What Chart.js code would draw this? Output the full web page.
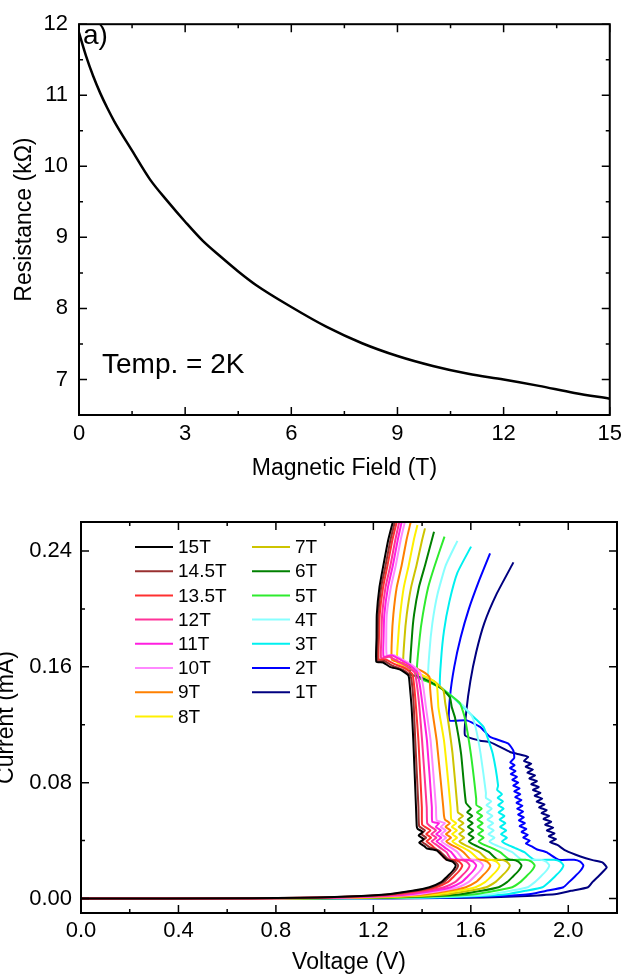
<!DOCTYPE html>
<html>
<head>
<meta charset="utf-8">
<script src="https://cdn.jsdelivr.net/npm/chart.js@4.4.0/dist/chart.umd.min.js"></script>
<style>
  html, body { margin: 0; padding: 0; background: #fff; }
  #wrap { position: relative; width: 628px; height: 976px; overflow: hidden; }
  canvas { position: absolute; left: 0; }
  #chartA { top: 0; }
  #chartB { top: 490px; }
</style>
</head>
<body>
<div id="wrap">
  <canvas id="chartA" width="628" height="490"></canvas>
  <canvas id="chartB" width="628" height="486"></canvas>
</div>
<script>

// Panel a) resistance vs field

const fieldB = [0, 0.2, 0.4, 0.6, 0.8, 1.0, 1.5, 2.0, 2.5, 3.0, 3.5, 4.0, 4.5, 5.0, 6.0, 7.0, 8.0, 9.0, 10.0, 11.0, 12.0, 13.0, 14.0, 15.0];
const resistance = [11.88, 11.55, 11.27, 11.03, 10.82, 10.63, 10.22, 9.82, 9.51, 9.22, 8.95, 8.73, 8.52, 8.33, 8.02, 7.74, 7.51, 7.33, 7.19, 7.08, 7.00, 6.91, 6.81, 6.73];

const fieldTicks = [0, 3, 6, 9, 12, 15];
const fieldMinor = [1.5, 4.5, 7.5, 10.5, 13.5];
const resTicks = [7, 8, 9, 10, 11, 12];
const resMinor = [7.5, 8.5, 9.5, 10.5, 11.5];

// Panel b) I-V curves, [voltage V, current mA]

const fields = ['15T', '14.5T', '13.5T', '12T', '11T', '10T', '9T', '8T', '7T', '6T', '5T', '4T', '3T', '2T', '1T'];
const colors = ['#000000', '#993030', '#ff3030', '#ff3399', '#ff1fe0', '#ff88ff', '#ff8000', '#fff000',
                '#cdc400', '#008000', '#2eeb2e', '#88ffff', '#00f0f0', '#0000ff', '#000080'];

const iv15 = [[0,0],[0.70,0.0002],[0.90,0.0006],[1.04,0.0010],[1.15,0.0018],[1.27,0.0032],[1.36,0.0053],[1.43,0.0078],[1.48,0.0115],[1.50,0.0147],[1.525,0.019],[1.538,0.0228],[1.525,0.0255],[1.50,0.0268],
  [1.46,0.0332],[1.42,0.0345],[1.41,0.036],[1.388,0.0385],[1.407,0.041],[1.386,0.0435],[1.403,0.046],[1.382,0.048],[1.378,0.050],[1.375,0.063],[1.364,0.109],[1.357,0.132],[1.350,0.146],[1.344,0.154],
  [1.31,0.158],[1.268,0.160],[1.24,0.163],[1.212,0.1635],[1.213,0.18],[1.214,0.196],[1.225,0.215],[1.241,0.23],[1.261,0.2476],[1.282,0.2614]];
const iv14p5 = [[0,0],[0.711,0.0002],[0.911,0.0006],[1.051,0.0010],[1.161,0.0018],[1.281,0.0032],[1.371,0.0053],[1.441,0.0078],[1.49,0.0115],[1.51,0.0147],[1.535,0.019],[1.548,0.0228],[1.535,0.0255],[1.51,0.0268],
  [1.47,0.033],[1.43,0.0355],[1.418,0.037],[1.398,0.0395],[1.417,0.042],[1.397,0.0445],[1.412,0.047],[1.388,0.050],[1.385,0.063],[1.372,0.109],[1.366,0.132],[1.36,0.146],[1.352,0.154],
  [1.32,0.158],[1.275,0.161],[1.245,0.164],[1.217,0.164],[1.218,0.18],[1.220,0.196],[1.232,0.215],[1.250,0.23],[1.270,0.2476],[1.290,0.2614]];
const iv13p5 = [[0,0],[0.73,0.0002],[0.93,0.0006],[1.07,0.0010],[1.18,0.0018],[1.30,0.0032],[1.388,0.0053],[1.458,0.0078],[1.507,0.0115],[1.527,0.0147],[1.552,0.019],[1.565,0.0228],[1.552,0.0255],[1.527,0.0268],[1.50,0.0268],
  [1.47,0.032],[1.45,0.035],[1.438,0.037],[1.418,0.0395],[1.437,0.042],[1.417,0.0445],[1.434,0.047],[1.412,0.0495],[1.40,0.051],[1.399,0.063],[1.385,0.109],[1.375,0.132],[1.368,0.146],[1.36,0.155],
  [1.33,0.159],[1.285,0.162],[1.25,0.165],[1.222,0.165],[1.223,0.18],[1.226,0.196],[1.240,0.215],[1.258,0.23],[1.278,0.2476],[1.298,0.2614]];
const iv12 = [[0,0],[0.763,0.0002],[0.963,0.0006],[1.103,0.0010],[1.213,0.0018],[1.333,0.0032],[1.42,0.0053],[1.49,0.0078],[1.537,0.0115],[1.557,0.0147],[1.582,0.019],[1.595,0.0228],[1.582,0.0255],[1.557,0.0268],[1.52,0.0268],
  [1.50,0.032],[1.475,0.035],[1.460,0.037],[1.439,0.0395],[1.459,0.042],[1.438,0.0445],[1.457,0.047],[1.436,0.0495],[1.421,0.052],[1.419,0.063],[1.40,0.109],[1.389,0.132],[1.38,0.146],[1.37,0.156],
  [1.34,0.160],[1.30,0.164],[1.265,0.167],[1.232,0.166],[1.233,0.18],[1.236,0.196],[1.250,0.215],[1.270,0.23],[1.290,0.2476],[1.308,0.2614]];
const iv11 = [[0,0],[0.792,0.0002],[0.992,0.0006],[1.132,0.0010],[1.242,0.0018],[1.362,0.0032],[1.448,0.0053],[1.518,0.0078],[1.564,0.0115],[1.584,0.0147],[1.609,0.019],[1.622,0.0228],[1.609,0.0255],[1.584,0.0268],[1.545,0.0268],
  [1.52,0.032],[1.495,0.035],[1.480,0.037],[1.459,0.0395],[1.479,0.042],[1.458,0.0445],[1.477,0.047],[1.456,0.0495],[1.470,0.052],[1.442,0.053],[1.440,0.063],[1.42,0.109],[1.403,0.132],[1.392,0.146],[1.38,0.156],
  [1.35,0.161],[1.31,0.165],[1.275,0.168],[1.242,0.167],[1.242,0.18],[1.245,0.196],[1.260,0.215],[1.280,0.23],[1.300,0.2476],[1.318,0.2614]];
const iv10 = [[0,0],[0.823,0.0002],[1.023,0.0006],[1.163,0.0010],[1.273,0.0018],[1.393,0.0032],[1.478,0.0053],[1.548,0.0078],[1.592,0.0115],[1.612,0.0147],[1.637,0.019],[1.650,0.0228],[1.637,0.0255],[1.612,0.0268],[1.57,0.0268],
  [1.545,0.032],[1.52,0.035],[1.500,0.037],[1.479,0.0395],[1.499,0.042],[1.478,0.0445],[1.497,0.047],[1.476,0.0495],[1.494,0.052],[1.46,0.054],[1.457,0.063],[1.435,0.109],[1.416,0.132],[1.405,0.146],[1.392,0.156],
  [1.36,0.161],[1.32,0.165],[1.285,0.168],[1.255,0.168],[1.253,0.18],[1.255,0.196],[1.272,0.215],[1.292,0.23],[1.312,0.2476],[1.331,0.2614]];
const iv9 = [[0,0],[0.856,0.0002],[1.056,0.0006],[1.196,0.0010],[1.306,0.0018],[1.426,0.0032],[1.509,0.0053],[1.579,0.0078],[1.622,0.0115],[1.642,0.0147],[1.667,0.019],[1.680,0.0228],[1.667,0.0255],[1.642,0.0268],[1.60,0.0268],
  [1.57,0.032],[1.545,0.035],[1.520,0.037],[1.499,0.0395],[1.519,0.042],[1.498,0.0445],[1.517,0.047],[1.496,0.0495],[1.514,0.052],[1.494,0.0545],[1.490,0.057],[1.487,0.063],[1.46,0.109],[1.44,0.132],[1.433,0.145],[1.43,0.153],
  [1.40,0.157],[1.36,0.160],[1.31,0.163],[1.276,0.165],[1.276,0.18],[1.282,0.196],[1.296,0.215],[1.316,0.23],[1.336,0.2476],[1.353,0.2598]];
const iv8 = [[0,0],[0.898,0.0002],[1.098,0.0006],[1.238,0.0010],[1.348,0.0018],[1.468,0.0032],[1.549,0.0053],[1.619,0.0078],[1.66,0.0115],[1.68,0.0147],[1.705,0.019],[1.718,0.0228],[1.705,0.0255],[1.68,0.0268],[1.635,0.0268],
  [1.60,0.032],[1.57,0.035],[1.545,0.037],[1.524,0.0395],[1.544,0.042],[1.523,0.0445],[1.543,0.047],[1.522,0.0495],[1.540,0.052],[1.520,0.0545],[1.518,0.058],[1.517,0.063],[1.49,0.109],[1.467,0.132],[1.46,0.148],
  [1.43,0.152],[1.39,0.155],[1.34,0.160],[1.298,0.163],[1.302,0.18],[1.310,0.196],[1.325,0.215],[1.345,0.23],[1.366,0.2476],[1.381,0.2579]];
const iv7 = [[0,0],[0.944,0.0002],[1.144,0.0006],[1.284,0.0010],[1.394,0.0018],[1.514,0.0032],[1.593,0.0053],[1.663,0.0078],[1.702,0.0115],[1.722,0.0147],[1.747,0.019],[1.760,0.0228],[1.747,0.0255],[1.722,0.0268],[1.67,0.0268],
  [1.635,0.032],[1.60,0.035],[1.575,0.037],[1.553,0.0395],[1.573,0.042],[1.552,0.0445],[1.572,0.047],[1.550,0.0495],[1.570,0.052],[1.549,0.0545],[1.568,0.057],[1.547,0.0595],[1.545,0.063],[1.525,0.100],[1.505,0.125],[1.495,0.135],[1.487,0.144],
  [1.45,0.150],[1.40,0.154],[1.36,0.158],[1.323,0.160],[1.328,0.18],[1.337,0.196],[1.355,0.215],[1.377,0.23],[1.400,0.2476],[1.412,0.2556]];
const iv6 = [[0,0],[0.997,0.0002],[1.197,0.0006],[1.337,0.0010],[1.447,0.0018],[1.567,0.0032],[1.644,0.0053],[1.714,0.0078],[1.75,0.0115],[1.77,0.0147],[1.795,0.019],[1.808,0.0228],[1.795,0.0255],[1.77,0.0268],[1.71,0.0268],
  [1.675,0.032],[1.64,0.035],[1.614,0.037],[1.592,0.0395],[1.612,0.042],[1.590,0.0445],[1.610,0.047],[1.588,0.0495],[1.608,0.052],[1.587,0.0545],[1.606,0.057],[1.585,0.0595],[1.600,0.062],[1.58,0.066],[1.56,0.100],[1.535,0.125],[1.522,0.132],[1.514,0.139],
  [1.48,0.145],[1.43,0.150],[1.39,0.153],[1.351,0.155],[1.358,0.18],[1.367,0.196],[1.387,0.215],[1.412,0.23],[1.449,0.2533]];
const iv5 = [[0,0],[1.056,0.0002],[1.256,0.0006],[1.396,0.0010],[1.506,0.0018],[1.626,0.0032],[1.70,0.0053],[1.77,0.0078],[1.804,0.0115],[1.824,0.0147],[1.849,0.019],[1.862,0.0228],[1.849,0.0255],[1.824,0.0268],[1.76,0.0268],
  [1.72,0.032],[1.685,0.035],[1.655,0.037],[1.632,0.0395],[1.653,0.042],[1.630,0.0445],[1.651,0.047],[1.628,0.0495],[1.649,0.052],[1.627,0.0545],[1.647,0.057],[1.625,0.0595],[1.645,0.062],[1.623,0.0645],[1.622,0.069],[1.60,0.100],[1.575,0.125],[1.555,0.135],
  [1.52,0.140],[1.47,0.146],[1.42,0.150],[1.378,0.153],[1.390,0.18],[1.403,0.196],[1.425,0.215],[1.452,0.23],[1.492,0.2499]];
const iv4 = [[0,0],[1.122,0.0002],[1.322,0.0006],[1.462,0.0010],[1.572,0.0018],[1.692,0.0032],[1.763,0.0053],[1.833,0.0078],[1.864,0.0115],[1.884,0.0147],[1.909,0.019],[1.922,0.0228],[1.909,0.0255],[1.884,0.0268],[1.81,0.0268],
  [1.77,0.032],[1.73,0.035],[1.700,0.037],[1.676,0.0395],[1.697,0.042],[1.672,0.0445],[1.694,0.047],[1.670,0.0495],[1.692,0.052],[1.668,0.0545],[1.689,0.057],[1.666,0.0595],[1.686,0.062],[1.664,0.0645],[1.684,0.067],[1.662,0.0695],[1.662,0.073],[1.64,0.100],[1.62,0.118],[1.604,0.126],
  [1.57,0.133],[1.52,0.140],[1.47,0.147],[1.426,0.152],[1.430,0.17],[1.442,0.19],[1.463,0.21],[1.497,0.23],[1.545,0.247]];
const iv3 = [[0,0],[1.186,0.0002],[1.386,0.0006],[1.526,0.0010],[1.636,0.0018],[1.756,0.0032],[1.824,0.0053],[1.894,0.0078],[1.922,0.0115],[1.942,0.0147],[1.967,0.019],[1.980,0.0228],[1.967,0.0255],[1.942,0.0268],[1.86,0.0268],
  [1.82,0.032],[1.78,0.035],[1.752,0.037],[1.728,0.0395],[1.748,0.042],[1.724,0.0445],[1.745,0.047],[1.720,0.0495],[1.742,0.052],[1.718,0.0545],[1.738,0.057],[1.714,0.0595],[1.735,0.062],[1.712,0.0645],[1.732,0.067],[1.710,0.0695],[1.728,0.072],[1.708,0.075],[1.712,0.078],
  [1.69,0.100],[1.665,0.113],[1.652,0.1185],[1.62,0.124],[1.57,0.132],[1.52,0.140],[1.474,0.146],[1.478,0.165],[1.490,0.185],[1.512,0.205],[1.545,0.225],[1.601,0.243]];
const iv2 = [[0,0],[1.276,0.0002],[1.476,0.0006],[1.616,0.0010],[1.726,0.0018],[1.846,0.0032],[1.91,0.0053],[1.98,0.0078],[2.004,0.0115],[2.024,0.0147],[2.049,0.019],[2.062,0.0228],[2.049,0.0255],[2.024,0.0268],[1.96,0.0268],
  [1.91,0.032],[1.87,0.034],[1.85,0.036],[1.826,0.038],[1.842,0.040],[1.815,0.042],[1.834,0.044],[1.808,0.046],[1.828,0.048],[1.800,0.050],[1.822,0.052],[1.797,0.054],[1.818,0.056],[1.794,0.058],[1.815,0.060],[1.790,0.062],
  [1.812,0.064],[1.787,0.066],[1.808,0.068],[1.782,0.070],[1.803,0.072],[1.778,0.074],[1.800,0.076],[1.774,0.078],[1.795,0.080],[1.770,0.082],[1.790,0.084],[1.764,0.086],[1.784,0.088],[1.760,0.090],[1.780,0.092],[1.762,0.094],[1.778,0.097],[1.775,0.102],
  [1.754,0.107],[1.679,0.1116],[1.638,0.1185],[1.583,0.123],[1.512,0.123],[1.515,0.14],[1.532,0.16],[1.558,0.18],[1.592,0.20],[1.635,0.22],[1.679,0.2384]];
const iv1 = [[0,0],[1.382,0.0002],[1.582,0.0006],[1.722,0.0010],[1.832,0.0018],[1.952,0.0032],[2.011,0.0053],[2.081,0.0078],[2.10,0.0115],[2.12,0.0147],[2.145,0.019],[2.158,0.0215],[2.14,0.025],[2.10,0.0265],
  [2.05,0.029],[1.99,0.033],[1.955,0.037],[1.925,0.039],[1.950,0.041],[1.920,0.043],[1.944,0.045],[1.912,0.047],[1.938,0.049],[1.905,0.051],[1.930,0.053],[1.898,0.055],[1.922,0.057],[1.890,0.059],[1.912,0.061],[1.880,0.063],
  [1.903,0.065],[1.870,0.067],[1.893,0.069],[1.862,0.071],[1.886,0.073],[1.855,0.075],[1.879,0.077],[1.848,0.079],[1.872,0.081],[1.840,0.083],[1.864,0.085],[1.832,0.087],[1.855,0.089],[1.825,0.091],[1.848,0.093],[1.818,0.095],[1.835,0.0978],
  [1.788,0.100],[1.761,0.1012],[1.679,0.108],[1.638,0.109],[1.576,0.1127],[1.582,0.13],[1.598,0.15],[1.622,0.17],[1.655,0.19],[1.705,0.21],[1.775,0.2321]];

const curves = [iv15, iv14p5, iv13p5, iv12, iv11, iv10, iv9, iv8, iv7, iv6, iv5, iv4, iv3, iv2, iv1];

const voltTicks = [0, 0.4, 0.8, 1.2, 1.6, 2.0];
const voltMinor = [0.2, 0.6, 1.0, 1.4, 1.8];
const currTicks = [0, 0.08, 0.16, 0.24];
const currMinor = [0.04, 0.12, 0.20];


// Shared look

Chart.defaults.font.family = '"Liberation Sans", Arial, sans-serif';
Chart.defaults.color = '#000';

// box round the plot with inward ticks on all four sides
const frame = {
    id: 'frame',
    afterDraw(chart, args, o){
        const ctx = chart.ctx;
        const a = chart.chartArea;
        const x = chart.scales.x, y = chart.scales.y;
        ctx.save();
        ctx.strokeStyle = '#000';
        ctx.lineWidth = 1.5;
        ctx.beginPath();
        const xt = (vals, len) => vals.forEach(v => {
            const p = x.getPixelForValue(v);
            ctx.moveTo(p, a.bottom); ctx.lineTo(p, a.bottom - len);
            ctx.moveTo(p, a.top); ctx.lineTo(p, a.top + len);
        });
        const yt = (vals, len) => vals.forEach(v => {
            const p = y.getPixelForValue(v);
            ctx.moveTo(a.left, p); ctx.lineTo(a.left + len, p);
            ctx.moveTo(a.right, p); ctx.lineTo(a.right - len, p);
        });
        xt(o.xMajor, 8); xt(o.xMinor, 4);
        yt(o.yMajor, 8); yt(o.yMinor, 4);
        ctx.stroke();
        ctx.lineWidth = 2;
        ctx.strokeRect(a.left, a.top, a.right - a.left, a.bottom - a.top);
        (o.notes || []).forEach(n => {
            ctx.font = n.size + 'px "Liberation Sans", Arial, sans-serif';
            ctx.fillStyle = '#000';
            ctx.textBaseline = 'alphabetic';
            ctx.textAlign = 'left';
            ctx.fillText(n.text, n.x, n.y);
        });
        ctx.restore();
    }
};

// two column legend, filled down the first column
const sideLegend = {
    id: 'sideLegend',
    afterDraw(chart, args, o){
        if (!o.show) return;
        const ctx = chart.ctx;
        ctx.save();
        ctx.font = '19px "Liberation Sans", Arial, sans-serif';
        ctx.textBaseline = 'middle';
        ctx.textAlign = 'left';
        chart.data.datasets.forEach((ds, i) => {
            const col = i < 8 ? 0 : 1;
            const row = i < 8 ? i : i - 8;
            const lx = col === 0 ? 135 : 252;
            const ly = chart.chartArea.top + 25 + row * 24.2;
            ctx.strokeStyle = ds.borderColor;
            ctx.lineWidth = 2;
            ctx.beginPath();
            ctx.moveTo(lx, ly);
            ctx.lineTo(lx + 38, ly);
            ctx.stroke();
            ctx.fillStyle = '#000';
            ctx.fillText(ds.label, lx + 43, ly + 1);
        });
        ctx.restore();
    }
};

function axis(opts){
    return {
        type: 'linear',
        min: opts.min,
        max: opts.max,
        grid: { display: false, drawTicks: false },
        border: { display: false },
        title: {
            display: true,
            text: opts.title,
            font: { size: 23 },
            padding: opts.titlePad
        },
        ticks: {
            font: { size: 22 },
            padding: opts.tickPad,
            autoSkip: false,
            maxRotation: 0,
            callback: opts.fmt
        },
        afterBuildTicks: scale => { scale.ticks = opts.ticks.map(v => ({value: v})) },
        afterFit: scale => {
            if (opts.width) scale.width = opts.width;
            if (opts.height) scale.height = opts.height;
        }
    };
}


// Chart a)

const chartA = new Chart(document.getElementById('chartA'), {
    type: 'scatter',
    data: {
        datasets: [{
            label: 'R',
            data: fieldB.map((b, i) => ({x: b, y: resistance[i]})),
            showLine: true,
            cubicInterpolationMode: 'monotone',
            borderColor: '#000',
            borderWidth: 2.5,
            pointRadius: 0
        }]
    },
    options: {
        responsive: false,
        animation: false,
        layout: { padding: { top: 20, right: 14, left: 0, bottom: 0 } },
        scales: {
            x: axis({ min: 0, max: 15, ticks: fieldTicks, title: 'Magnetic Field (T)',
                      titlePad: { top: 0, bottom: 8 }, tickPad: 6, height: 75, fmt: v => String(v) }),
            y: axis({ min: 6.5, max: 12, ticks: resTicks, title: 'Resistance (k\u03a9)',
                      titlePad: { top: 11, bottom: 0 }, tickPad: 11, width: 79, fmt: v => String(v) })
        },
        plugins: {
            legend: { display: false },
            tooltip: { enabled: false },
            frame: {
                xMajor: fieldTicks, xMinor: fieldMinor, yMajor: resTicks, yMinor: resMinor,
                notes: [
                    { text: 'a)', x: 83, y: 44, size: 28 },
                    { text: 'Temp. = 2K', x: 102, y: 373, size: 28 }
                ]
            }
        }
    },
    plugins: [frame]
});


// Chart b)

const chartB = new Chart(document.getElementById('chartB'), {
    type: 'scatter',
    data: {
        datasets: fields.map((f, i) => ({
            label: f,
            data: curves[i].map(p => ({x: p[0], y: p[1]})),
            showLine: true,
            tension: 0.15,
            borderColor: colors[i],
            backgroundColor: colors[i],
            borderWidth: 2,
            pointRadius: 0
        }))
    },
    options: {
        responsive: false,
        animation: false,
        layout: { padding: { top: 32, right: 11, left: 0, bottom: 0 } },
        scales: {
            x: axis({ min: 0, max: 2.2, ticks: voltTicks, title: 'Voltage (V)',
                      titlePad: { top: 0, bottom: 0 }, tickPad: 5, height: 63, fmt: v => v.toFixed(1) }),
            y: axis({ min: -0.01, max: 0.26, ticks: currTicks, title: 'Current (mA)',
                      titlePad: { top: -7, bottom: 0 }, tickPad: 9, width: 81, fmt: v => v.toFixed(2) })
        },
        plugins: {
            legend: { display: false },
            tooltip: { enabled: false },
            frame: {
                xMajor: voltTicks, xMinor: voltMinor, yMajor: currTicks, yMinor: currMinor,
                notes: [ { text: 'b)', x: 86, y: 546, size: 28 } ]
            },
            sideLegend: { show: true }
        }
    },
    plugins: [frame, sideLegend]
});

</script>
</body>
</html>
